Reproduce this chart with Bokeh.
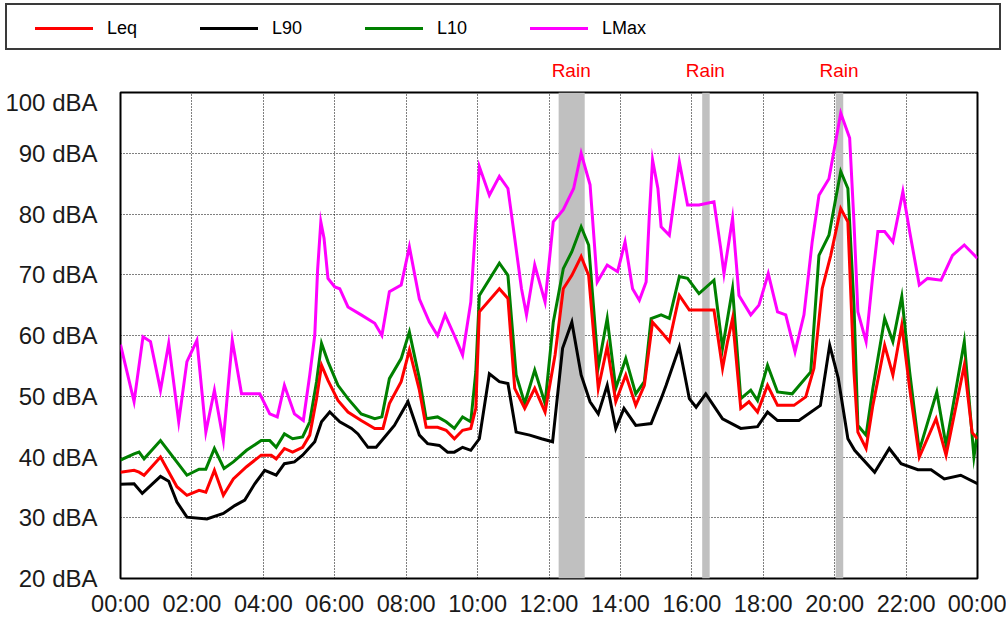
from bokeh.plotting import figure
from bokeh.layouts import column
from bokeh.models import BoxAnnotation, FixedTicker, Range1d, Div
from bokeh.embed import file_html
from bokeh.resources import INLINE

# ---------------- data (hours of day, dBA) ----------------
lmax_h = [0.0, 0.38, 0.63, 0.84, 1.12, 1.35, 1.63, 1.86, 2.14, 2.39, 2.63, 2.88, 3.13, 3.39, 3.90,
          4.18, 4.39, 4.59, 4.87, 5.12, 5.30, 5.44, 5.52, 5.61, 5.70, 5.81, 6.00, 6.14, 6.37, 6.74,
          7.12, 7.32, 7.53, 7.86, 8.09, 8.37, 8.65, 8.88, 9.09, 9.35, 9.58, 9.81, 9.95, 10.05, 10.33,
          10.61, 10.85, 11.04, 11.23, 11.37, 11.60, 11.89, 12.12, 12.40, 12.69, 12.90, 13.15, 13.35,
          13.63, 13.92, 14.13, 14.34, 14.53, 14.72, 14.81, 14.90, 15.05, 15.14, 15.37, 15.65, 15.88,
          16.20, 16.62, 16.81, 16.90, 17.14, 17.32, 17.65, 17.88, 18.14, 18.40, 18.63, 18.89, 19.14,
          19.37, 19.56, 19.84, 20.17, 20.42, 20.54, 20.65, 20.88, 21.07, 21.21, 21.40, 21.63, 21.91,
          22.10, 22.37, 22.60, 22.98, 23.30, 23.63, 24.00]
lmax_db = [58.5, 49.1, 59.8, 59.0, 51.0, 58.7, 45.8, 55.7, 59.2, 44.1, 51.0, 42.7, 59.2, 50.4, 50.4,
           47.1, 46.6, 51.8, 47.1, 46.0, 53.5, 60.0, 70.8, 78.7, 76.0, 69.4, 68.0, 67.7, 64.7, 63.4,
           62.0, 60.0, 67.2, 68.3, 74.6, 66.0, 62.2, 60.0, 63.4, 60.0, 56.8, 65.5, 78.7, 87.8, 83.1,
           86.2, 84.2, 76.0, 67.7, 63.4, 71.6, 65.5, 78.7, 80.7, 84.2, 90.0, 84.8, 68.8,
           71.6, 70.5, 75.4, 67.7, 65.8, 68.8, 79.8, 88.9, 84.2, 77.9, 76.5, 88.6, 81.5,
           81.5, 82.0, 74.3, 70.2, 79.3, 66.6, 63.4, 65.0, 70.2, 63.9, 63.4, 57.3, 63.4,
           75.4, 83.1, 85.8, 96.6, 92.5, 78.7, 63.9, 59.0, 70.0, 77.1, 77.1, 75.4, 83.7,
           77.1, 68.3, 69.4, 69.1, 73.2, 74.9, 72.7]

leq_h = [0.0, 0.38, 0.52, 0.66, 1.12, 1.58, 1.86, 2.20, 2.39, 2.63, 2.88, 3.16, 3.53, 3.94, 4.22,
         4.36, 4.59, 4.82, 5.10, 5.30, 5.49, 5.63, 5.81, 6.09, 6.37, 6.74, 7.12, 7.35, 7.53, 7.86,
         8.09, 8.37, 8.56, 8.88, 9.12, 9.35, 9.58, 9.81, 9.95, 10.05, 10.61, 10.85, 11.04, 11.32,
         11.60, 11.89, 12.17, 12.40, 12.64, 12.90, 13.11, 13.38, 13.63, 13.87, 14.15, 14.43, 14.67,
         14.90, 15.14, 15.37, 15.65, 15.93, 16.62, 16.86, 17.00, 17.14, 17.37, 17.60, 17.84, 18.12,
         18.40, 18.86, 19.19, 19.42, 19.65, 19.89, 20.17, 20.37, 20.54, 20.65, 20.88, 21.07, 21.40,
         21.63, 21.88, 22.10, 22.37, 22.84, 23.12, 23.63, 23.85, 24.00]
leq_db = [37.5, 37.8, 37.5, 37.0, 40.0, 35.1, 33.7, 34.5, 34.2, 37.8, 33.7, 36.4, 38.4, 40.3, 40.3,
          39.7, 41.4, 40.8, 41.6, 43.6, 49.6, 55.1, 52.6, 49.3, 47.4, 46.0, 44.7, 44.7, 48.8, 52.4,
          57.6, 51.0, 44.9, 44.9, 44.4, 43.0, 44.4, 44.7, 48.0, 63.9, 67.7, 66.1, 51.3, 48.0,
          51.3, 47.4, 56.8, 67.7, 69.9, 73.0, 69.9, 51.3, 58.2, 49.1, 53.5, 48.5, 51.8,
          62.2, 60.6, 59.0, 66.6, 64.2, 64.2, 54.6, 59.0, 62.8, 48.0, 49.1, 47.4, 51.8,
          48.5, 48.5, 49.9, 54.6, 67.7, 73.2, 80.9, 78.7, 54.0, 44.1, 41.4, 48.5, 58.4,
          53.5, 61.7, 51.3, 40.0, 46.3, 40.3, 55.1, 44.0, 43.0]

l10_h = [0.0, 0.38, 0.52, 0.66, 1.12, 1.86, 2.20, 2.39, 2.63, 2.90, 3.16, 3.53, 3.94, 4.18, 4.36,
         4.59, 4.82, 5.10, 5.30, 5.49, 5.63, 5.81, 6.09, 6.37, 6.74, 7.12, 7.32, 7.53, 7.86, 8.09,
         8.37, 8.56, 8.88, 9.12, 9.35, 9.58, 9.81, 9.95, 10.05, 10.61, 10.85, 11.08, 11.32, 11.60,
         11.89, 12.12, 12.40, 12.64, 12.90, 13.11, 13.38, 13.63, 13.87, 14.15, 14.43, 14.67, 14.86,
         15.14, 15.37, 15.65, 15.88, 16.20, 16.62, 16.86, 17.14, 17.37, 17.65, 17.84, 18.12, 18.40,
         18.81, 19.33, 19.56, 19.84, 20.17, 20.37, 20.54, 20.65, 20.88, 21.07, 21.40, 21.63, 21.88,
         22.10, 22.37, 22.86, 23.12, 23.63, 23.90, 24.00]
l10_db = [39.5, 40.5, 40.8, 39.7, 42.7, 37.0, 38.0, 38.0, 41.4, 38.1, 39.2, 41.1, 42.7, 42.7, 41.6,
          43.8, 43.0, 43.3, 45.8, 52.4, 58.7, 55.7, 51.8, 49.6, 47.1, 46.3, 46.6, 52.9, 56.2, 60.6,
          52.9, 46.3, 46.6, 45.8, 44.7, 46.6, 45.8, 54.0, 66.6, 71.9, 69.9, 53.5, 48.8, 54.3,
          48.8, 62.2, 71.0, 73.8, 77.9, 74.9, 54.8, 62.8, 51.3, 56.2, 50.4, 52.4, 62.8,
          63.4, 62.8, 69.7, 69.4, 66.9, 69.1, 57.9, 67.7, 49.6, 51.0, 49.3, 55.1, 50.7,
          50.4, 54.0, 73.2, 76.5, 87.0, 84.2, 65.0, 45.2, 43.6, 51.3, 62.8, 59.0, 66.4,
          54.0, 41.1, 50.7, 41.9, 59.0, 40.0, 44.0]

l90_h = [0.0, 0.38, 0.61, 1.12, 1.35, 1.58, 1.86, 2.42, 2.88, 3.20, 3.48, 3.76, 4.04, 4.36, 4.59,
         4.87, 5.10, 5.44, 5.63, 5.86, 6.14, 6.47, 6.65, 6.93, 7.16, 7.40, 7.67, 8.05, 8.37, 8.60,
         8.93, 9.16, 9.35, 9.58, 9.81, 10.05, 10.33, 10.61, 10.85, 11.08, 11.46, 11.79, 12.10, 12.38,
         12.64, 12.90, 13.15, 13.38, 13.63, 13.87, 14.10, 14.43, 14.86, 15.14, 15.28, 15.65, 15.93,
         16.12, 16.39, 16.86, 17.37, 17.84, 18.12, 18.40, 19.00, 19.60, 19.86, 20.10, 20.37, 20.56,
         21.12, 21.53, 21.86, 22.33, 22.70, 23.07, 23.53, 24.00]
l90_db = [35.5, 35.6, 34.0, 36.8, 36.0, 32.6, 30.1, 29.8, 30.7, 32.0, 32.9, 35.6, 37.8, 37.0, 38.9,
          39.2, 40.3, 42.5, 45.8, 47.4, 45.8, 44.7, 43.8, 41.6, 41.6, 43.3, 45.2, 49.1, 43.6, 42.2,
          41.9, 40.8, 40.8, 41.6, 41.1, 43.0, 53.7, 52.4, 52.1, 44.1, 43.6, 43.0, 42.5, 57.9,
          62.2, 53.5, 49.1, 47.1, 51.8, 44.7, 48.0, 45.2, 45.5, 49.6, 51.8, 58.1, 49.6,
          48.2, 50.4, 46.3, 44.7, 45.0, 47.4, 46.0, 46.0, 48.5, 58.4, 53.0, 43.0, 41.1,
          37.5, 41.4, 38.9, 37.9, 37.9, 36.4, 37.0, 35.6]

rain_start = [12.27, 16.29, 20.03]
rain_end = [13.0, 16.5, 20.24]
rain_text = ["Rain", "Rain", "Rain"]

x_ticks = [0, 2, 4, 6, 8, 10, 12, 14, 16, 18, 20, 22, 24]
x_tick_labels = ["00:00", "02:00", "04:00", "06:00", "08:00", "10:00", "12:00",
                 "14:00", "16:00", "18:00", "20:00", "22:00", "00:00"]
y_ticks = [20, 30, 40, 50, 60, 70, 80, 90, 100]
y_tick_labels = ["20 dBA", "30 dBA", "40 dBA", "50 dBA", "60 dBA", "70 dBA", "80 dBA", "90 dBA", "100 dBA"]

series_names = ["Leq", "L90", "L10", "LMax"]
series_colors = ["#ff0000", "#000000", "#008000", "#ff00ff"]

FONT = "Liberation Sans"

# ---------------- layout constants (pixels) ----------------
W = 1006
TOP_H = 88            # header strip with legend and rain labels
MAIN_H = 619 - TOP_H
FRAME_L, FRAME_R = 120, 977
X0, X1 = 0, 24

# ---------------- main chart ----------------
p = figure(width=W, height=MAIN_H, x_range=Range1d(X0, X1), y_range=Range1d(20, 100),
           output_backend="svg", toolbar_location=None,
           min_border_left=FRAME_L, min_border_right=W - FRAME_R,
           min_border_top=4, min_border_bottom=41)
p.background_fill_color = "white"
p.border_fill_color = "white"
p.outline_line_color = "#000000"
p.outline_line_width = 2

p.xaxis.ticker = FixedTicker(ticks=x_ticks)
p.xaxis.major_label_overrides = {t: s for t, s in zip(x_ticks, x_tick_labels)}
p.yaxis.ticker = FixedTicker(ticks=y_ticks)
p.yaxis.major_label_overrides = {t: s for t, s in zip(y_ticks, y_tick_labels)}
for ax in (p.xaxis[0], p.yaxis[0]):
    ax.axis_line_color = None
    ax.major_tick_line_color = None
    ax.minor_tick_line_color = None
    ax.major_tick_in = 0
    ax.major_tick_out = 0
    ax.major_label_text_font = FONT
    ax.major_label_text_color = "#1a1a1a"
p.xaxis.major_label_text_font_size = "23.5px"
p.yaxis.major_label_text_font_size = "24px"
p.xaxis.major_label_standoff = 12
p.yaxis.major_label_standoff = 23

for g in (p.xgrid[0], p.ygrid[0]):
    g.grid_line_color = "#000000"
    g.grid_line_dash = "1 2"
    g.grid_line_width = 1
p.xgrid.ticker = FixedTicker(ticks=x_ticks)
p.ygrid.ticker = FixedTicker(ticks=y_ticks)

for s, e in zip(rain_start, rain_end):
    p.add_layout(BoxAnnotation(left=s, right=e, fill_color="#c0c0c0", fill_alpha=1.0,
                               line_alpha=0, level="underlay"))

data = {"Leq": (leq_h, leq_db), "L90": (l90_h, l90_db), "L10": (l10_h, l10_db), "LMax": (lmax_h, lmax_db)}
for name in ["LMax", "L90", "L10", "Leq"]:
    c = series_colors[series_names.index(name)]
    hx, hy = data[name]
    p.line(hx, hy, line_color=c, line_width=3, line_join="miter")

# ---------------- header strip: legend box + rain labels (HTML) ----------------
def to_px(h):
    return FRAME_L + (h - X0) / (X1 - X0) * (FRAME_R - FRAME_L)

parts = ['<div style="position:absolute;left:5px;top:3px;width:996px;height:47px;'
         'box-sizing:border-box;border:2px solid #3a3a3a;background:#ffffff;"></div>']
for i, (n, c) in enumerate(zip(series_names, series_colors)):
    x = 35 + 165 * i
    parts.append(f'<div style="position:absolute;left:{x}px;top:27px;width:58px;height:3px;'
                 f'background:{c};"></div>')
    parts.append(f'<div style="position:absolute;left:{x + 72}px;top:17px;height:22px;'
                 f'line-height:22px;font-size:18px;color:#000000;white-space:nowrap;">{n}</div>')
for s, e, t in zip(rain_start, rain_end, rain_text):
    cx = to_px((s + e) / 2)
    parts.append(f'<div style="position:absolute;left:{cx - 40:.1f}px;top:60px;width:80px;'
                 f'text-align:center;height:22px;line-height:22px;font-size:19px;'
                 f'color:#ff0000;">{t}</div>')

header = Div(text=f'<div style="position:relative;width:{W}px;height:{TOP_H}px;'
                  f'font-family:\'{FONT}\',Arial,sans-serif;">' + "".join(parts) + '</div>',
             width=W, height=TOP_H, margin=(0, 0, 0, 0))

layout = column(header, p, spacing=0)
open("out.html", "w").write(file_html(layout, INLINE))
